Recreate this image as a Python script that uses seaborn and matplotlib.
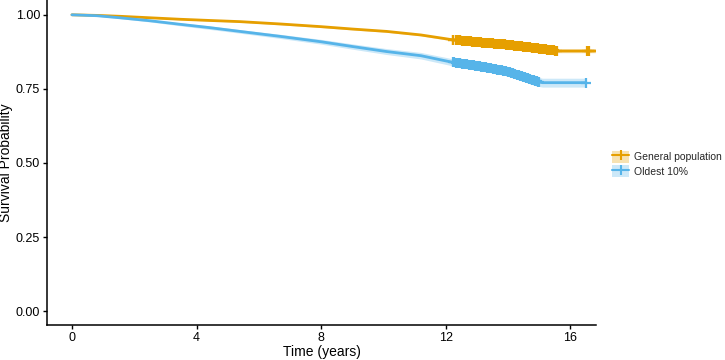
import numpy as np
import pandas as pd
import matplotlib
matplotlib.use("Agg")
import matplotlib.pyplot as plt
from matplotlib.patches import Patch
from matplotlib.lines import Line2D
import seaborn as sns

# ---- data ----
groups = ["General population", "Oldest 10%"]
colors = ["#E69F00", "#56B4E9"]

gen_time = [0.0, 0.8, 1.54, 2.5, 3.47, 4.4, 5.39, 6.7, 8.0, 9.0, 10.1, 11.2, 12.2, 13.1, 14.0, 15.0, 15.6, 16.6, 16.8]
gen_surv = [1.0, 0.998, 0.995, 0.990, 0.985, 0.981, 0.977, 0.969, 0.960, 0.952, 0.944, 0.932, 0.916, 0.907, 0.899, 0.886, 0.878, 0.878, 0.878]
gen_lo   = [1.0, 0.997, 0.993, 0.988, 0.983, 0.979, 0.975, 0.966, 0.957, 0.949, 0.941, 0.929, 0.912, 0.903, 0.894, 0.880, 0.872, 0.872, 0.872]
gen_hi   = [1.0, 0.999, 0.997, 0.992, 0.987, 0.983, 0.979, 0.972, 0.963, 0.955, 0.947, 0.935, 0.920, 0.911, 0.904, 0.892, 0.884, 0.884, 0.884]

old_time = [0.0, 0.8, 1.54, 2.5, 3.47, 4.4, 5.39, 6.7, 8.0, 9.0, 10.1, 11.2, 12.2, 13.1, 14.0, 14.9, 15.1, 16.5]
old_surv = [1.0, 0.997, 0.990, 0.980, 0.968, 0.957, 0.944, 0.927, 0.909, 0.893, 0.876, 0.862, 0.840, 0.826, 0.808, 0.776, 0.771, 0.771]
old_lo   = [1.0, 0.995, 0.987, 0.976, 0.963, 0.951, 0.938, 0.920, 0.901, 0.884, 0.866, 0.851, 0.828, 0.813, 0.794, 0.760, 0.756, 0.756]
old_hi   = [1.0, 0.999, 0.993, 0.984, 0.973, 0.963, 0.950, 0.934, 0.917, 0.902, 0.886, 0.873, 0.852, 0.839, 0.822, 0.791, 0.786, 0.786]

gen_censor = [12.22, 12.24, 12.33, 12.36, 12.40, 12.44, 12.47, 12.51, 12.55, 12.58, 12.62, 12.66, 12.69,
              12.73, 12.77, 12.80, 12.84, 12.88, 12.91, 12.95, 12.99, 13.02, 13.06, 13.10, 13.13,
              13.17, 13.21, 13.24, 13.28, 13.32, 13.35, 13.39, 13.43, 13.46, 13.50, 13.54, 13.57,
              13.61, 13.65, 13.68, 13.72, 13.76, 13.79, 13.83, 13.87, 13.90, 13.94, 13.98, 14.01,
              14.05, 14.09, 14.12, 14.16, 14.20, 14.23, 14.27, 14.31, 14.34, 14.38, 14.42, 14.45,
              14.49, 14.53, 14.56, 14.60, 14.64, 14.67, 14.71, 14.75, 14.78, 14.82, 14.86, 14.89,
              14.93, 14.97, 15.00, 15.04, 15.08, 15.11, 15.15, 15.19, 15.22, 15.26, 15.30, 15.33,
              15.37, 15.41, 15.44, 15.48, 15.52, 15.56, 16.54, 16.58]
old_censor = [12.22, 12.25, 12.33, 12.36, 12.40, 12.44, 12.47, 12.51, 12.55, 12.58, 12.62, 12.66, 12.69,
              12.73, 12.77, 12.80, 12.84, 12.88, 12.91, 12.95, 12.99, 13.02, 13.06, 13.10, 13.13,
              13.17, 13.21, 13.24, 13.28, 13.32, 13.35, 13.39, 13.43, 13.46, 13.50, 13.54, 13.57,
              13.61, 13.65, 13.68, 13.72, 13.76, 13.79, 13.83, 13.87, 13.90, 13.94, 13.98, 14.01,
              14.05, 14.09, 14.12, 14.16, 14.20, 14.23, 14.27, 14.31, 14.34, 14.38, 14.42, 14.45,
              14.49, 14.53, 14.56, 14.60, 14.64, 14.67, 14.71, 14.75, 14.78, 14.82, 14.86, 14.89,
              14.93, 14.97, 15.00, 16.50]

yticks = [0.00, 0.25, 0.50, 0.75, 1.00]
ytick_labels = ["0.00", "0.25", "0.50", "0.75", "1.00"]
xticks = [0, 4, 8, 12, 16]

# ---- build table ----
df = pd.concat([
    pd.DataFrame({"time": gen_time, "surv": gen_surv, "group": groups[0]}),
    pd.DataFrame({"time": old_time, "surv": old_surv, "group": groups[1]}),
])

sns.set_theme(style="ticks")
plt.rcParams["font.family"] = ["Liberation Sans", "DejaVu Sans"]

fig = plt.figure(figsize=(7.25, 3.6), dpi=100)
ax = fig.add_axes([47 / 725, 35 / 360, (596 - 47) / 725, 325 / 360])

bands = [(gen_time, gen_lo, gen_hi), (old_time, old_lo, old_hi)]
for (t, lo, hi), c in zip(bands, colors):
    ax.fill_between(t, lo, hi, color=c, alpha=0.3, linewidth=0)

sns.lineplot(data=df, x="time", y="surv", hue="group", palette=colors,
             hue_order=groups, linewidth=2.0, ax=ax, legend=False, sort=False)

cens = [(gen_censor, gen_time, gen_surv), (old_censor, old_time, old_surv)]
for (ct, t, s), c in zip(cens, colors):
    cy = np.interp(ct, t, s)
    ax.plot(ct, cy, linestyle="none", marker="+", markersize=7, mew=1.6, color=c)

ax.set_xlim(-0.8, 16.82)
ax.set_ylim(-0.047, 1.05)
ax.set_xticks(xticks)
ax.set_xticklabels([str(v) for v in xticks])
ax.set_yticks(yticks)
ax.set_yticklabels(ytick_labels)
ax.tick_params(axis="both", labelsize=9, colors="black", length=3, width=1, pad=2)
ax.set_xlabel("Time (years)", fontsize=10, color="black", labelpad=1)
ax.set_ylabel("Survival Probability", fontsize=10, color="black", labelpad=2)
for side in ["top", "right"]:
    ax.spines[side].set_visible(False)
for side in ["left", "bottom"]:
    ax.spines[side].set_color("black")
    ax.spines[side].set_linewidth(1.1)

handles = []
for c in colors:
    handles.append((Patch(facecolor=c, alpha=0.3, edgecolor="none"),
                    Line2D([], [], color=c, lw=1.5, marker="|", markersize=7, mew=1.5)))
fig.legend(handles, groups, loc="center left", bbox_to_anchor=(608 / 725, 1 - 164 / 360),
           frameon=False, fontsize=7.5, handlelength=1.6, handleheight=1.4,
           handletextpad=0.5, labelspacing=0.25, borderaxespad=0)

fig.savefig("out.png", dpi=100)
